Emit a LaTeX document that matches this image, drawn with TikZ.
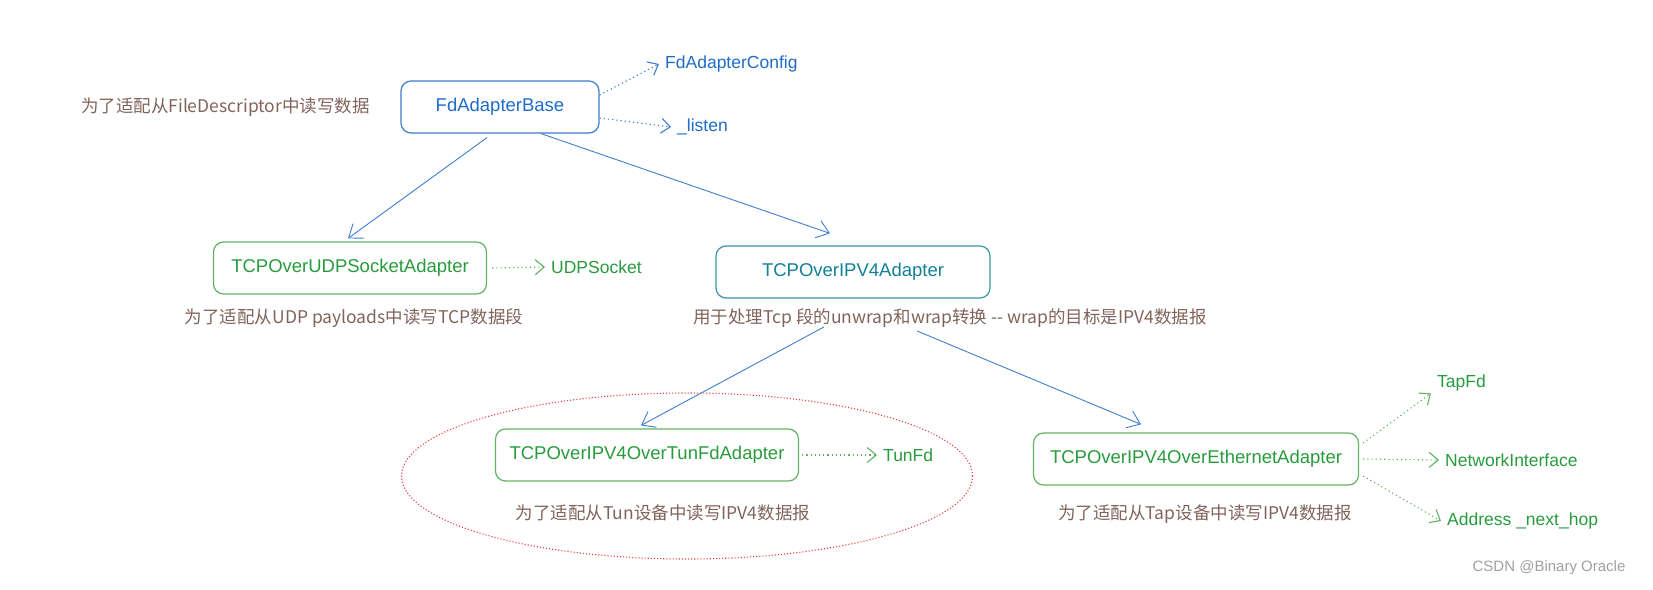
\documentclass[tikz,border=0pt]{standalone}
\usepackage{fontspec}
\setmainfont{Liberation Sans}
\newfontfamily\cjk{Noto Sans CJK SC}
\usetikzlibrary{arrows.meta}
\usetikzlibrary{positioning}
\usetikzlibrary{shapes.geometric}

\definecolor{blueline}{RGB}{62,126,204}
\definecolor{bluetext}{RGB}{30,108,200}
\definecolor{greenline}{RGB}{98,178,100}
\definecolor{greentext}{RGB}{40,155,60}
\definecolor{tealline}{RGB}{58,150,168}
\definecolor{tealtext}{RGB}{18,128,150}
\definecolor{notebrown}{RGB}{128,100,92}
\definecolor{groupred}{RGB}{232,64,64}
\definecolor{markgray}{RGB}{160,160,160}

\begin{document}
\begin{tikzpicture} [
        x = 1pt,
        y = -1pt,
        every node/.style = {
          align = center,
          font = \fontsize{17.5}{21}\selectfont,
        },
        classbox/.style = {
          draw,
          rounded corners = 10pt,
          line width = 1.2pt,
          minimum height = 52pt,
          font = \fontsize{18.5}{22}\selectfont,
        },
        inherit/.style = {
          draw,
          blueline,
          line width = 0.9pt,
          -{Straight Barb[length=12pt, width=18pt]},
        },
        uses/.style = {
          draw,
          dash pattern = on 1.2pt off 3pt,
          line width = 1.1pt,
          -{Straight Barb[length=9pt, width=15pt]},
        },
        attr/.style = {
          anchor = west,
          inner sep = 6pt,
        },
        note/.style = {
          text = notebrown,
          font = \cjk\fontsize{17.5}{21}\selectfont,
        },
        group/.style = {
          draw = groupred,
          dotted,
          line width = 1.1pt,
          ellipse,
          inner sep = 0pt,
        },
      ]

    \useasboundingbox (0,0) rectangle (1653,589);

    % class boxes
    \node [classbox, draw = blueline, text = bluetext, minimum width = 198pt] at (500,107) (base) {FdAdapterBase};
    \node [classbox, draw = greenline, text = greentext, minimum width = 273pt] at (350,268) (udp) {TCPOverUDPSocketAdapter};
    \node [classbox, draw = tealline, text = tealtext, minimum width = 274pt] at (853,272) (ipv4) {TCPOverIPV4Adapter};
    \node [classbox, draw = greenline, text = greentext, minimum width = 303pt] at (647,455) (tun) {TCPOverIPV4OverTunFdAdapter};
    \node [classbox, draw = greenline, text = greentext, minimum width = 325pt] at (1196,459) (eth) {TCPOverIPV4OverEthernetAdapter};

    % group round the tun adapter
    \node [group, minimum width = 571pt, minimum height = 166pt] at (687,476) (tunGroup) {};

    % notes
    \node [note, left = 27pt of base] (baseNote) {为了适配从FileDescriptor中读写数据};
    \node [note] at (354,318) (udpNote) {为了适配从UDP payloads中读写TCP数据段};
    \node [note] at (950,318) (ipv4Note) {用于处理Tcp 段的unwrap和wrap转换 -- wrap的目标是IPV4数据报};
    \node [note] at (663,513) (tunNote) {为了适配从Tun设备中读写IPV4数据报};
    \node [note] at (1205,514) (ethNote) {为了适配从Tap设备中读写IPV4数据报};

    % members
    \node [attr, text = bluetext] at (659,64) (cfg) {FdAdapterConfig};
    \node [attr, text = bluetext] at (671,127) (listen) {\_listen};
    \node [attr, text = greentext] at (545,267) (udpSock) {UDPSocket};
    \node [attr, text = greentext] at (877,455) (tunFd) {TunFd};
    \node [attr, text = greentext] at (1431,383) (tapFd) {TapFd};
    \node [attr, text = greentext] at (1439,460) (netIf) {NetworkInterface};
    \node [attr, text = greentext] at (1441,521) (nextHop) {Address \_next\_hop};

    \node [text = markgray, font = \fontsize{15}{18}\selectfont] at (1549,568) (mark) {CSDN @Binary Oracle};

    \draw[inherit] ([xshift = -13pt, yshift = -4pt]base.south) -- ([xshift = -2pt, yshift = 3pt]udp.north);
    \draw[inherit] ([xshift = 41pt]base.south) -- ([xshift = -23pt, yshift = 12pt]ipv4.north);
    \draw[inherit] ([xshift = -126pt, yshift = 4pt]ipv4Note.south) -- ([xshift = -6pt, yshift = 3pt]tun.north);
    \draw[inherit] ([xshift = -33pt]ipv4Note.south) -- ([xshift = -55pt, yshift = 8pt]eth.north);

    \draw[uses, blueline] ([yshift = 12pt]base.east) -- (cfg.west);
    \draw[uses, blueline] ([yshift = -11pt]base.east) -- (listen.west);
    \draw[uses, greenline] ([xshift = 5pt]udp.east) -- (udpSock.west);
    \draw[uses, greenline] ([xshift = 3pt]tun.east) -- (tunFd.west);
    \draw[uses, greenline] ([xshift = 4pt, yshift = 16pt]eth.east) -- ([yshift = 4pt]tapFd.south west);
    \draw[uses, greenline] ([xshift = 4pt]eth.east) -- (netIf.west);
    \draw[uses, greenline] ([xshift = 4pt, yshift = -17pt]eth.east) -- (nextHop.west);
  \end{tikzpicture}
\end{document}
